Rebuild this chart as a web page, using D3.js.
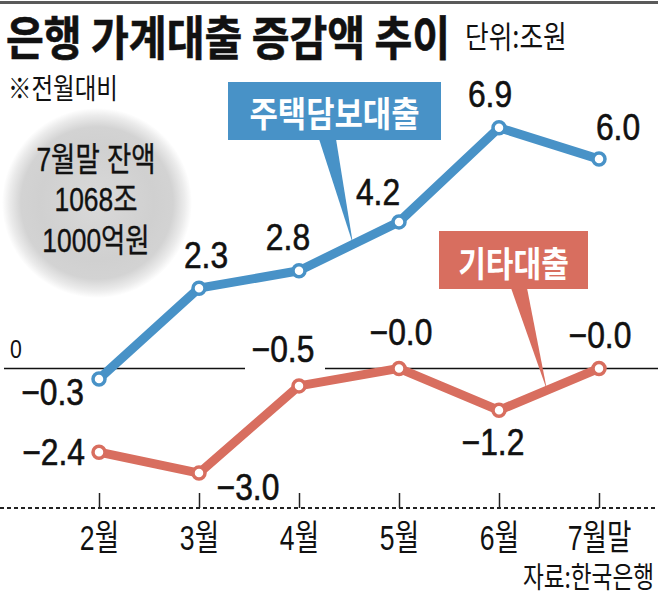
<!DOCTYPE html>
<html><head><meta charset="utf-8">
<script src="https://cdn.jsdelivr.net/npm/d3@7"></script>
<style>
html,body{margin:0;padding:0;background:#fff;}
svg{display:block;}
</style></head>
<body>
<svg id="chart" width="658" height="599"></svg>
<script>
// ---- data ----
const months = ["2월", "3월", "4월", "5월", "6월", "7월말"];
const mortgage = [-0.3, 2.3, 2.8, 4.2, 6.9, 6.0];      // 주택담보대출
const otherLoans = [-2.4, -3.0, -0.5, -0.0, -1.2, -0.0]; // 기타대출
const seriesNames = ["주택담보대출", "기타대출"];
const yTickValues = [0];
const yTickLabels = ["0"];
const titleText = "은행 가계대출 증감액 추이";
const unitText = "단위:조원";
const noteText = "※전월대비";
const balanceLines = ["7월말 잔액", "1068조", "1000억원"];
const sourceText = "자료:한국은행";

// ---- layout / style ----
const W = 658, H = 599;
const BLUE = "#4892c7", RED = "#d86e5f";
const KR = "'Noto Sans CJK KR', sans-serif";
const NUM = "'Liberation Sans', 'Noto Sans CJK KR', sans-serif";

const svg = d3.select("#chart");
const x = d3.scalePoint().domain(months).range([99, 599]);
const y = d3.scaleLinear().domain([-4, 7]).range([508, 124.2]);

// horizontal condensing via transform (keeps anchor point in place)
function fit(sel, f) {
  sel.each(function () {
    const s = d3.select(this);
    const x0 = +s.attr("x");
    s.attr("x", x0 / f).attr("transform", `scale(${f},1)`);
  });
}

// top rule
svg.append("rect").attr("x", 0).attr("y", 1).attr("width", W).attr("height", 3).attr("fill", "#5a5a5a");

// title
fit(svg.append("text").attr("x", 6).attr("y", 55).attr("font-family", KR).attr("font-weight", 700)
  .attr("font-size", 47).attr("fill", "#111").attr("stroke", "#111").attr("stroke-width", 0.6)
  .text(titleText), 0.875);
fit(svg.append("text").attr("x", 465).attr("y", 48).attr("font-family", KR)
  .attr("font-size", 31).attr("fill", "#111").text(unitText), 0.83);
fit(svg.append("text").attr("x", 8).attr("y", 99).attr("font-family", KR)
  .attr("font-size", 29).attr("fill", "#111").text(noteText), 0.81);

// gray bubble
const defs = svg.append("defs");
const rg = defs.append("radialGradient").attr("id", "bub");
[[0, "#d9d9d9"], [0.6, "#d0d0d0"], [0.8, "#d3d3d3"], [0.92, "#ebebeb"], [1, "#ffffff"]]
  .forEach(([o, c]) => rg.append("stop").attr("offset", o).attr("stop-color", c));
svg.append("circle").attr("cx", 97).attr("cy", 203).attr("r", 95).attr("fill", "url(#bub)");
balanceLines.forEach((t, i) => {
  fit(svg.append("text").attr("x", 96).attr("y", 171 + i * 40.5).attr("text-anchor", "middle")
    .attr("font-family", NUM).attr("font-size", 33).attr("fill", "#111")
    .attr("stroke", "#111").attr("stroke-width", 0.4).text(t), 0.8);
});

// zero line (with gap)
[[4, 245], [325, W]].forEach(([a, b]) => {
  svg.append("line").attr("x1", a).attr("x2", b).attr("y1", y(0)).attr("y2", y(0))
    .attr("stroke", "#111").attr("stroke-width", 1.5);
});
svg.selectAll(".ytl").data(yTickValues).join("text").attr("class", "ytl")
  .attr("x", 10).attr("y", d => y(d) - 10).attr("font-family", NUM).attr("font-size", 25)
  .attr("fill", "#111").text((d, i) => yTickLabels[i]).call(fit, 0.85);

// dotted baseline
svg.append("line").attr("x1", 0).attr("x2", W).attr("y1", y(-4)).attr("y2", y(-4))
  .attr("stroke", "#222").attr("stroke-width", 2).attr("stroke-dasharray", "4,3");

// x axis ticks + labels
const axis = d3.axisBottom(x).tickSize(-15).tickSizeOuter(0);
const gx = svg.append("g").attr("transform", `translate(0,${y(-4)})`).call(axis);
gx.select(".domain").remove();
gx.selectAll(".tick line").attr("stroke", "#222").attr("stroke-width", 1.5);
gx.selectAll(".tick text").attr("x", 0).attr("y", 42).attr("dy", 0).attr("font-family", NUM)
  .attr("font-size", 35).attr("fill", "#111").call(fit, 0.76);

// source
fit(svg.append("text").attr("x", 654).attr("y", 588).attr("text-anchor", "end").attr("font-family", KR)
  .attr("font-size", 29).attr("fill", "#111").text(sourceText), 0.78);

// pointer wedges
function lerp(a, b, t) { return [a[0] + (b[0] - a[0]) * t, a[1] + (b[1] - a[1]) * t]; }
const bp = months.map((m, i) => [x(m), y(mortgage[i])]);
const rp = months.map((m, i) => [x(m), y(otherLoans[i])]);
const bTip = lerp(bp[2], bp[3], 0.54);
const rTip = lerp(rp[4], rp[5], 0.48);
svg.append("polygon").attr("points", [[319, 139], [336, 139], bTip].map(p => p.join(",")).join(" ")).attr("fill", BLUE);
svg.append("polygon").attr("points", [[511, 288], [527, 288], rTip].map(p => p.join(",")).join(" ")).attr("fill", RED);

// lines
const line = d3.line().x((d, i) => x(months[i])).y(d => y(d));
[[mortgage, BLUE], [otherLoans, RED]].forEach(([data, col]) => {
  svg.append("path").datum(data).attr("d", line).attr("fill", "none").attr("stroke", col)
    .attr("stroke-width", 9).attr("stroke-linejoin", "round");
  svg.selectAll(null).data(data).join("circle").attr("cx", (d, i) => x(months[i])).attr("cy", d => y(d))
    .attr("r", 6).attr("fill", "#fff").attr("stroke", col).attr("stroke-width", 3.5);
});

// value labels (negative zero keeps its minus sign, as in the source)
const fmt = d => ((d < 0 || Object.is(d, -0)) ? "\u2212" : "") + d3.format(".1f")(Math.abs(d));
const bOff = [[-15, 26, "end"], [7, -20, "middle"], [-11, -21, "middle"], [-21, -17, "middle"], [-9, -21, "middle"], [19, -19, "middle"]];
const rOff = [[-14, 13, "end"], [49, 27, "middle"], [-16, -24, "middle"], [2, -23, "middle"], [-6, 45, "middle"], [1, -20, "middle"]];
[[mortgage, bOff], [otherLoans, rOff]].forEach(([data, off]) => {
  svg.selectAll(null).data(data).join("text")
    .attr("x", (d, i) => x(months[i]) + off[i][0]).attr("y", (d, i) => y(d) + off[i][1])
    .attr("text-anchor", (d, i) => off[i][2]).attr("font-family", NUM).attr("font-size", 37)
    .attr("fill", "#111").attr("stroke", "#111").attr("stroke-width", 0.6)
    .text(d => fmt(d)).call(fit, 0.86);
});

// series label boxes
const boxes = [[228, 82, 213, 58, BLUE, seriesNames[0], 0.88], [439, 231, 149, 58, RED, seriesNames[1], 0.86]];
boxes.forEach(([bx, by, bw, bh, col, t, f]) => {
  svg.append("rect").attr("x", bx).attr("y", by).attr("width", bw).attr("height", bh).attr("fill", col);
  fit(svg.append("text").attr("x", bx + bw / 2).attr("y", by + bh / 2 + 1).attr("text-anchor", "middle")
    .attr("dominant-baseline", "central").attr("font-family", KR).attr("font-weight", 700)
    .attr("font-size", 35).attr("fill", "#fff").text(t), f);
});
</script>
</body></html>
